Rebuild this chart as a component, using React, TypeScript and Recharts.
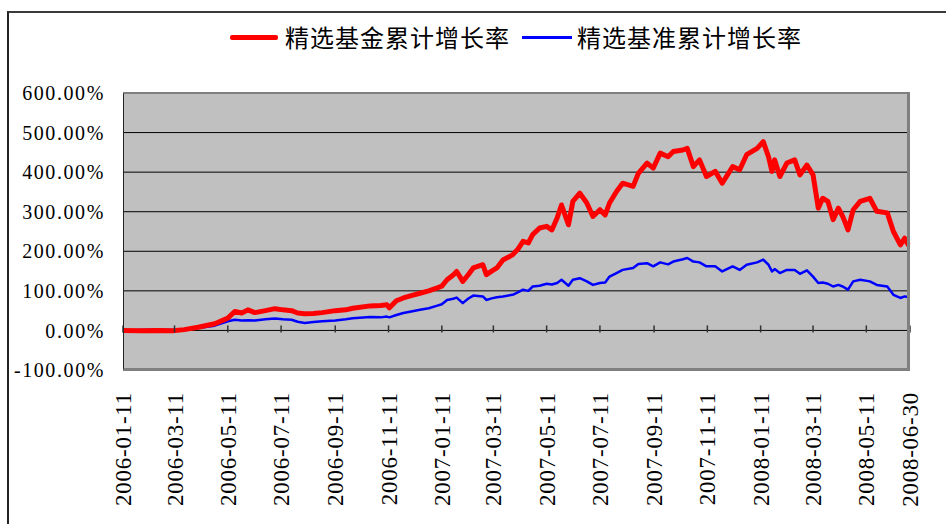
import React from "react";
import { LineChart, Line, XAxis, YAxis, CartesianGrid } from "recharts";

// trading dates sampled from the chart
const dates = [
  "2006-01-11", "2006-01-31", "2006-02-20", "2006-03-09", "2006-03-22", "2006-04-07", "2006-04-26",
  "2006-05-11", "2006-05-19", "2006-05-27", "2006-06-03", "2006-06-11", "2006-06-23", "2006-07-04",
  "2006-07-13", "2006-07-23", "2006-07-30", "2006-08-07", "2006-08-17", "2006-08-27", "2006-09-11",
  "2006-09-23", "2006-10-01", "2006-10-21", "2006-11-02", "2006-11-09", "2006-11-12", "2006-11-20",
  "2006-11-28", "2006-12-07", "2006-12-17", "2006-12-27", "2007-01-05", "2007-01-11", "2007-01-17",
  "2007-01-24", "2007-01-28", "2007-02-04", "2007-02-10", "2007-02-16", "2007-02-27", "2007-03-03",
  "2007-03-09", "2007-03-15", "2007-03-22", "2007-04-02", "2007-04-08", "2007-04-14", "2007-04-20",
  "2007-04-25", "2007-05-03", "2007-05-11", "2007-05-17", "2007-05-23", "2007-05-28", "2007-06-05",
  "2007-06-10", "2007-06-18", "2007-06-26", "2007-07-03", "2007-07-11", "2007-07-17", "2007-07-22",
  "2007-07-30", "2007-08-06", "2007-08-18", "2007-08-24", "2007-09-03", "2007-09-10", "2007-09-18",
  "2007-09-27", "2007-10-03", "2007-10-14", "2007-10-19", "2007-10-26", "2007-11-02", "2007-11-10",
  "2007-11-20", "2007-11-28", "2007-12-10", "2007-12-18", "2007-12-26", "2008-01-07", "2008-01-14",
  "2008-01-20", "2008-01-24", "2008-01-27", "2008-02-02", "2008-02-10", "2008-02-19", "2008-02-25",
  "2008-03-04", "2008-03-11", "2008-03-17", "2008-03-22", "2008-03-28", "2008-04-03", "2008-04-09",
  "2008-04-14", "2008-04-20", "2008-04-26", "2008-05-04", "2008-05-15", "2008-05-23", "2008-06-04",
  "2008-06-11", "2008-06-19", "2008-06-24", "2008-06-28", "2008-06-30",
];

// 精选基金累计增长率 (%)
const fundGrowth = [
  0, -1, 0, -1, 2, 8, 17,
  31, 48, 44, 52, 45, 50, 55,
  52, 50, 44, 42, 43, 45, 50,
  52, 56, 62, 63, 65, 57, 75,
  82, 88, 94, 100, 107, 112, 128,
  140, 149, 124, 140, 158, 166, 141,
  150, 158, 178, 191, 205, 225, 221,
  242, 259, 263, 254, 284, 317, 267,
  326, 347, 322, 288, 305, 292, 322,
  351, 372, 364, 397, 423, 410, 448,
  439, 452, 456, 460, 414, 431, 389,
  402, 372, 414, 406, 444, 460, 477,
  439, 402, 431, 389, 423, 431, 393,
  418, 393, 309, 334, 326, 280, 309,
  288, 254, 305, 326, 334, 301, 297,
  250, 216, 233, 216, 216,
];

// 精选基准累计增长率 (%)
const benchGrowth = [
  0, 1, 2, 1, 3, 6, 12,
  23, 27, 25, 26, 25, 28, 30,
  28, 27, 22, 19, 21, 23, 25,
  28, 31, 34, 33, 35, 33, 39,
  44, 48, 52, 56, 62, 66, 77,
  80, 83, 69, 80, 88, 86, 77,
  81, 84, 86, 90, 96, 103, 100,
  111, 113, 118, 116, 120, 128, 113,
  128, 132, 124, 115, 120, 121, 136,
  145, 153, 158, 168, 170, 162, 172,
  167, 174, 180, 183, 174, 172, 162,
  162, 149, 162, 153, 166, 172, 179,
  166, 149, 155, 145, 153, 153, 143,
  152, 136, 120, 121, 118, 111, 115,
  111, 103, 124, 128, 124, 115, 111,
  90, 82, 86, 84, 84,
];

const xTickDates = [
  "2006-01-11", "2006-03-11", "2006-05-11", "2006-07-11", "2006-09-11", "2006-11-11",
  "2007-01-11", "2007-03-11", "2007-05-11", "2007-07-11", "2007-09-11", "2007-11-11",
  "2008-01-11", "2008-03-11", "2008-05-11", "2008-06-30",
];

const yTicks = [-100, 0, 100, 200, 300, 400, 500, 600];

const DAY = 86400000;
const toDay = (s: string) => {
  const [y, m, d] = s.split("-").map(Number);
  return (Date.UTC(y, m - 1, d) - Date.UTC(2006, 0, 11)) / DAY;
};

const data = dates.map((d, i) => ({ t: toDay(d), fund: fundGrowth[i], bench: benchGrowth[i] }));
const xTicks = xTickDates.map(toDay);
const tickLabel = new Map(xTickDates.map((d) => [toDay(d), d]));

const W = 946;
const H = 524;
const PLOT_LEFT = 123;
const PLOT_TOP = 93;
const PLOT_RIGHT = 910;
const PLOT_BOTTOM = 370;
const ZERO_Y = PLOT_TOP + ((PLOT_BOTTOM - PLOT_TOP) * 600) / 700;

const SERIF = '"Liberation Serif", "Times New Roman", serif';
const CJK = '"Noto Sans CJK SC", sans-serif';

function XTick(props: any) {
  const { x, payload } = props;
  const label = tickLabel.get(payload.value) ?? "";
  const top = PLOT_BOTTOM + 22;
  return (
    <g>
      <line x1={x} x2={x} y1={ZERO_Y - 5} y2={ZERO_Y + 2} stroke="#333" strokeWidth={1.5} />
      <text
        x={x}
        y={top}
        transform={`rotate(-90, ${x}, ${top})`}
        textAnchor="end"
        dy="0.35em"
        fontFamily={SERIF}
        fontSize={23}
        letterSpacing={0.75}
        fill="#000"
      >
        {label}
      </text>
    </g>
  );
}

function YTick(props: any) {
  const { x, y, payload } = props;
  return (
    <text
      x={x}
      y={y}
      textAnchor="end"
      dy="0.36em"
      fontFamily={SERIF}
      fontSize={20}
      letterSpacing={1.6}
      fill="#000"
    >
      {`${payload.value}.00%`}
    </text>
  );
}

export default function App() {
  return (
    <div
      style={{
        position: "absolute",
        left: 0,
        top: 0,
        width: W,
        height: H,
        overflow: "hidden",
        background: "#fff",
      }}
    >
      <div
        style={{
          position: "absolute",
          left: 7,
          top: 11,
          width: W + 20,
          height: H + 20,
          borderLeft: "2px solid #222",
          borderTop: "2px solid #3a3a3a",
        }}
      />
      <LineChart
        width={W}
        height={H}
        data={data}
        margin={{ top: PLOT_TOP, right: W - PLOT_RIGHT, bottom: 0, left: 0 }}
        style={{ position: "absolute", left: 0, top: 0 }}
      >
        <CartesianGrid vertical={false} stroke="#000" strokeWidth={1} fill="#C0C0C0" fillOpacity={1} />
        <XAxis
          type="number"
          dataKey="t"
          domain={[0, 901]}
          ticks={xTicks}
          interval={0}
          axisLine={false}
          tickLine={false}
          tickSize={0}
          height={H - PLOT_BOTTOM}
          tick={<XTick />}
        />
        <YAxis
          type="number"
          domain={[-100, 600]}
          ticks={yTicks}
          interval={0}
          axisLine={false}
          tickLine={false}
          tickSize={0}
          tickMargin={18}
          width={PLOT_LEFT}
          tick={<YTick />}
        />
        <Line
          type="linear"
          dataKey="bench"
          stroke="#0000FF"
          strokeWidth={2.5}
          dot={false}
          isAnimationActive={false}
          strokeLinejoin="round"
        />
        <Line
          type="linear"
          dataKey="fund"
          stroke="#FF0000"
          strokeWidth={5}
          dot={false}
          isAnimationActive={false}
          strokeLinejoin="round"
        />
      </LineChart>
      <div
        style={{
          position: "absolute",
          left: PLOT_LEFT,
          top: PLOT_TOP,
          width: PLOT_RIGHT - PLOT_LEFT,
          height: PLOT_BOTTOM - PLOT_TOP,
          boxSizing: "border-box",
          borderLeft: "1.5px solid #222",
          borderTop: "1px solid #808080",
          borderRight: "3px solid #808080",
          borderBottom: "2px solid #808080",
          pointerEvents: "none",
        }}
      />
      <div
        style={{
          position: "absolute",
          left: 230,
          top: 23,
          display: "flex",
          alignItems: "center",
          fontFamily: CJK,
          fontSize: 24,
          lineHeight: "28px",
          color: "#000",
          whiteSpace: "nowrap",
        }}
      >
        <span style={{ display: "inline-block", width: 48, height: 5, background: "#FF0000", borderRadius: 2 }} />
        <span style={{ marginLeft: 7, letterSpacing: 1 }}>精选基金累计增长率</span>
        <span style={{ display: "inline-block", width: 50, height: 3, background: "#0000FF", marginLeft: 12 }} />
        <span style={{ marginLeft: 5, letterSpacing: 1 }}>精选基准累计增长率</span>
      </div>
    </div>
  );
}
